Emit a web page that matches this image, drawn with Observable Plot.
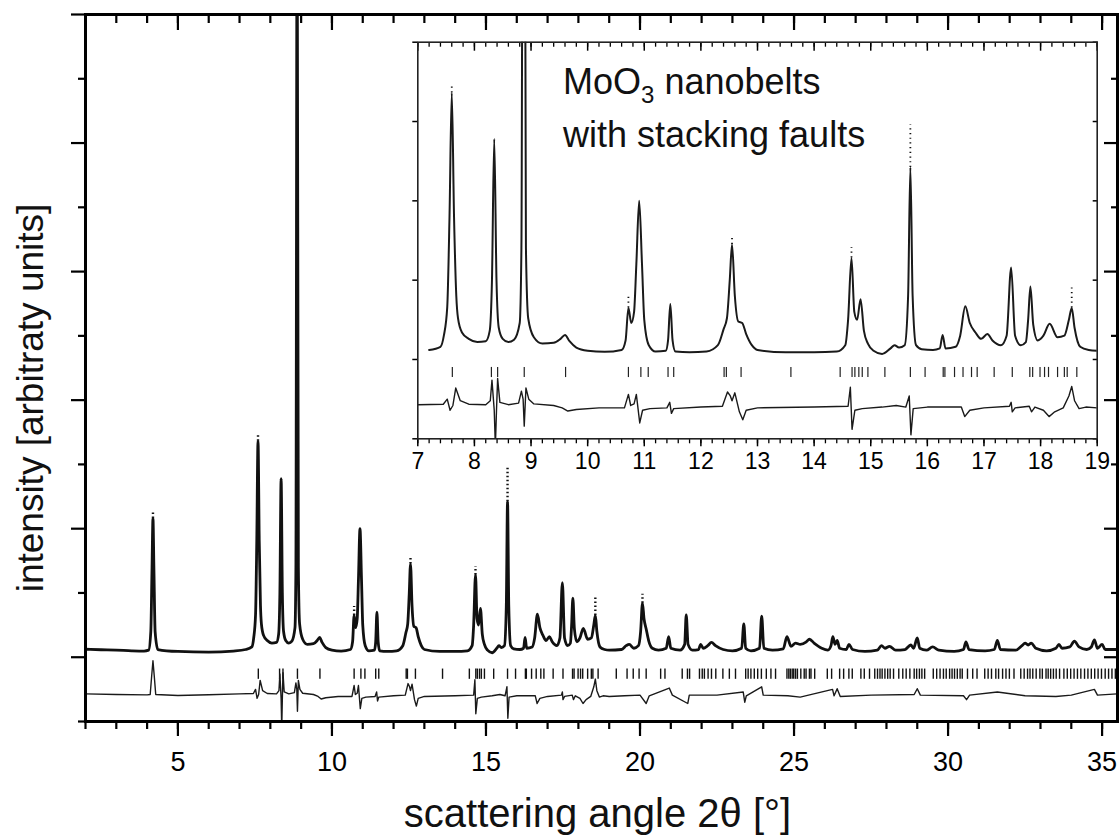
<!DOCTYPE html>
<html>
<head>
<meta charset="utf-8">
<script src="https://cdn.jsdelivr.net/npm/d3@7"></script>
<script src="https://cdn.jsdelivr.net/npm/@observablehq/plot@0.6"></script>
<style>
  body { margin: 0; background: #fff; }
  #fig { position: relative; width: 1120px; height: 835px; font-family: "Liberation Sans", Arial, sans-serif; color: #000; }
  #fig svg { position: absolute; }
  #note { position: absolute; left: 563px; top: 55px; font-size: 36px; line-height: 53px; color: #111; white-space: nowrap; }
  #note sub { font-size: 24px; vertical-align: -9px; line-height: 0; }
</style>
</head>
<body>
<div id="fig"></div>
<script>
// Observed powder pattern of the MoO3 nanobelts: [2θ (deg), intensity (counts)]
const pattern = [
  [2.0, 62], [2.5, 58], [3.0, 55], [3.5, 50], [3.9, 48], [4.05, 55], [4.12, 200], [4.16, 700], [4.19, 1080], [4.22, 700], [4.26, 200], [4.35, 60],
  [5.0, 45], [6.0, 40], [6.8, 48], [7.2, 60], [7.4, 80], [7.46, 150], [7.52, 330], [7.56, 900], [7.6, 1680], [7.64, 900], [7.68, 400], [7.71, 260],
  [7.78, 170], [7.9, 130], [8.05, 110], [8.2, 115], [8.27, 180], [8.31, 500], [8.35, 1390], [8.39, 500], [8.43, 200], [8.5, 130], [8.6, 110],
  [8.7, 125], [8.8, 230], [8.83, 700], [8.87, 6000], [8.91, 700], [8.95, 260], [9.05, 140], [9.2, 100], [9.4, 105], [9.52, 130], [9.6, 155],
  [9.68, 115], [9.8, 75], [10.0, 55], [10.3, 48], [10.6, 60], [10.67, 120], [10.72, 325], [10.77, 230], [10.82, 300], [10.86, 600], [10.91, 1000],
  [10.96, 600], [11.0, 250], [11.08, 90], [11.2, 50], [11.38, 55], [11.42, 120], [11.46, 350], [11.5, 120], [11.55, 50], [11.8, 45], [12.1, 50],
  [12.3, 90], [12.4, 190], [12.46, 260], [12.51, 500], [12.55, 725], [12.6, 400], [12.66, 240], [12.73, 230], [12.8, 160], [12.9, 90], [13.0, 60],
  [13.5, 45], [14.0, 45], [14.4, 50], [14.55, 90], [14.6, 250], [14.66, 640], [14.71, 300], [14.76, 250], [14.82, 380], [14.88, 180], [14.95, 100],
  [15.05, 55], [15.2, 35], [15.35, 70], [15.42, 90], [15.5, 75], [15.6, 90], [15.66, 400], [15.7, 1210], [15.74, 400], [15.8, 90], [15.9, 65],
  [16.1, 60], [16.22, 70], [16.27, 155], [16.32, 70], [16.5, 80], [16.58, 150], [16.67, 335], [16.75, 230], [16.85, 170], [16.95, 130], [17.06, 160],
  [17.15, 120], [17.3, 90], [17.4, 150], [17.48, 580], [17.55, 150], [17.65, 90], [17.74, 110], [17.78, 250], [17.82, 460], [17.87, 220], [17.95, 120],
  [18.05, 150], [18.16, 225], [18.3, 140], [18.42, 150], [18.5, 250], [18.55, 325], [18.6, 200], [18.7, 80], [18.85, 60], [19.0, 55],
  [19.4, 60], [19.55, 90], [19.65, 100], [19.8, 70], [19.95, 90], [20.02, 200], [20.08, 420], [20.13, 300], [20.2, 220], [20.28, 130], [20.4, 70],
  [20.6, 55], [20.85, 70], [20.93, 160], [21.0, 70], [21.3, 55], [21.45, 100], [21.5, 330], [21.56, 100], [21.7, 55], [21.9, 60], [21.97, 100],
  [22.05, 70], [22.2, 90], [22.32, 115], [22.45, 90], [22.7, 60], [23.0, 50], [23.3, 70], [23.37, 260], [23.43, 70], [23.6, 50], [23.88, 70],
  [23.95, 320], [24.02, 70], [24.3, 55], [24.65, 65], [24.77, 160], [24.9, 85], [25.05, 110], [25.2, 100], [25.4, 120], [25.5, 140], [25.65, 110],
  [25.9, 70], [26.1, 55], [26.2, 90], [26.26, 160], [26.33, 100], [26.4, 130], [26.48, 70], [26.7, 60], [26.78, 100], [26.9, 60], [27.3, 45],
  [27.7, 55], [27.84, 90], [27.95, 70], [28.1, 85], [28.3, 55], [28.6, 60], [28.79, 95], [28.88, 70], [29.0, 150], [29.08, 70], [29.3, 55],
  [29.5, 80], [29.7, 55], [30.2, 45], [30.5, 60], [30.58, 120], [30.68, 60], [31.2, 50], [31.5, 60], [31.6, 130], [31.7, 60], [32.2, 55],
  [32.4, 90], [32.5, 110], [32.6, 95], [32.7, 110], [32.85, 70], [33.2, 50], [33.5, 70], [33.6, 100], [33.7, 70], [33.95, 80], [34.1, 125],
  [34.25, 80], [34.5, 60], [34.65, 80], [34.75, 135], [34.85, 70], [35.0, 100], [35.1, 60], [35.5, 60]
];

// Scattered observed points above the fitted peak maxima: [2θ, fit top, highest point]
const peakTops = [
  [4.19, 1080, 1130], [7.6, 1680, 1725], [10.72, 325, 395], [12.55, 725, 775], [14.66, 640, 705],
  [15.7, 1210, 1480], [18.55, 325, 460], [20.08, 420, 490]
];

// Difference curve (observed − calculated): [2θ, counts]
const difference = [
  [2.0, 5], [3.0, 0], [4.0, -3], [4.1, 0], [4.15, 150], [4.19, 263], [4.23, 150], [4.28, 0], [5.0, -8], [6.0, -2], [7.0, 5],
  [7.45, 8], [7.52, 40], [7.57, -30], [7.62, 0], [7.67, 110], [7.75, 30], [7.9, 8], [8.2, 5], [8.28, 30], [8.31, 160], [8.35, -30],
  [8.37, -260], [8.39, -30], [8.41, 170], [8.45, 20], [8.6, 5], [8.78, 15], [8.83, 90], [8.86, 40], [8.88, -130], [8.91, 110], [8.96, 40],
  [9.05, 10], [9.4, 0], [9.55, -15], [9.65, -35], [9.8, -25], [10.2, -15], [10.65, -15], [10.72, 70], [10.76, 0], [10.82, 10], [10.86, 70],
  [10.92, -110], [10.97, -30], [11.1, -20], [11.4, -15], [11.45, 20], [11.48, -50], [11.52, -20], [12.0, -10], [12.38, -5], [12.47, 85],
  [12.52, 60], [12.55, 30], [12.6, 80], [12.68, -40], [12.74, -90], [12.8, -30], [13.0, -15], [14.0, -10], [14.6, -5], [14.64, 115],
  [14.67, -150], [14.72, -30], [14.85, -20], [15.2, -10], [15.45, 0], [15.62, -10], [15.68, 60], [15.71, -185], [15.75, -20], [16.0, -10],
  [16.6, -10], [16.66, -70], [16.75, -30], [17.0, -15], [17.45, -5], [17.48, 20], [17.5, -40], [17.55, -15], [17.8, -5], [17.84, -40],
  [17.9, -10], [18.05, -30], [18.15, -70], [18.25, -40], [18.4, -15], [18.5, 60], [18.55, 120], [18.6, 30], [18.68, -20], [18.8, -10],
  [19.0, -15], [19.5, -10], [20.0, -5], [20.2, -70], [20.3, -10], [20.95, 50], [21.05, -5], [21.55, -70], [21.6, -5], [22.5, -5],
  [23.35, 20], [23.4, -60], [23.45, -10], [23.95, 60], [24.0, -5], [24.8, -10], [25.2, -20], [26.25, 40], [26.3, -10], [26.4, 45],
  [26.5, -15], [27.5, -5], [28.9, 0], [29.0, 45], [29.1, -5], [30.5, -10], [30.6, -40], [30.7, -5], [31.6, 20], [32.5, -10],
  [33.5, -15], [34.0, -5], [34.75, 40], [34.85, -5], [35.5, 5]
];

// Bragg reflection positions of the MoO3 phase (2θ, deg)
const reflections = [
  7.61, 8.30, 8.41, 8.88, 9.61, 10.72, 10.94, 11.07, 11.42, 11.52, 12.41, 12.45, 12.71, 13.59, 14.46, 14.67, 14.72, 14.79, 14.85,
  14.95, 15.25, 15.70, 15.96, 16.28, 16.31, 16.48, 16.63, 16.78, 16.88, 17.18, 17.50, 17.81, 17.86, 17.99, 18.07, 18.14, 18.30,
  18.42, 18.47, 18.64, 19.23, 19.58, 19.78, 19.97, 20.20, 20.67, 20.81, 21.37, 21.54, 21.61, 21.93, 22.02, 22.09, 22.21, 22.32,
  22.46, 22.69, 22.90, 23.10, 23.43, 23.51, 23.60, 23.71, 23.82, 23.94, 24.10, 24.25, 24.40, 24.77, 24.83, 24.88, 24.94, 24.99,
  25.05, 25.11, 25.22, 25.33, 25.39, 25.50, 25.55, 25.67, 26.08, 26.22, 26.48, 26.61, 26.78, 26.89, 27.17, 27.28, 27.45, 27.62,
  27.71, 27.79, 27.86, 27.95, 28.04, 28.12, 28.23, 28.40, 28.53, 28.64, 28.76, 28.90, 28.98, 29.07, 29.15, 29.24, 29.52, 29.63,
  29.74, 29.85, 29.94, 30.05, 30.13, 30.21, 30.30, 30.39, 30.46, 30.63, 30.80, 30.94, 31.19, 31.30, 31.41, 31.55, 31.64, 31.77,
  31.88, 31.99, 32.14, 32.36, 32.47, 32.58, 32.66, 32.75, 32.86, 32.98, 33.06, 33.18, 33.25, 33.33, 33.42, 33.51, 33.62, 33.76,
  33.87, 33.98, 34.09, 34.20, 34.31, 34.43, 34.54, 34.65, 34.76, 34.87, 34.98, 35.10, 35.21, 35.32, 35.43
];

// Axis tick values
const mainXLabels = [5, 10, 15, 20, 25, 30, 35];
const mainXMinor = d3.range(2, 36, 1);
const mainYMajor = [0, 1000, 2000, 3000, 4000, 5000];
const mainYMinor = [-500, 500, 1500, 2500, 3500, 4500];
const insetXLabels = d3.range(7, 20, 1);
const insetXMinor = d3.range(35, 96, 1).map(d => d / 5);
const insetYTicks = [-500, 0, 500, 1000, 1500, 2000];

const xTitle = "scattering angle 2θ [°]";
const yTitle = "intensity [arbitraty units]";

const diffOffset = -290;   // vertical shift of the difference curve
const font = "'Liberation Sans', Arial, Helvetica, sans-serif";
const tx = d => d[0];

const main = Plot.plot({
  width: 1120,
  height: 835,
  marginLeft: 85,
  marginRight: 3,
  marginTop: 14,
  marginBottom: 114,
  x: {domain: [2, 35.5]},
  y: {domain: [-500, 5000]},
  style: {fontFamily: font, color: "#000", background: "white", overflow: "visible"},
  marks: [
    Plot.line(pattern, {x: tx, y: d => d[1], curve: "monotone-x", stroke: "#111", strokeWidth: 2.8, clip: true}),
    Plot.ruleX(peakTops, {x: tx, y1: d => d[1], y2: d => d[2], stroke: "#111", strokeWidth: 2.4, strokeDasharray: "1.5,2.5", clip: true}),
    Plot.ruleX(reflections, {y1: -92, y2: -172, stroke: "#111", strokeWidth: 1.4}),
    Plot.line(difference, {x: tx, y: d => d[1] + diffOffset, stroke: "#1a1a1a", strokeWidth: 1.4, clip: true}),
    // bottom axis: labelled major ticks and unit minor ticks, pointing outward
    Plot.axisX(mainXLabels, {anchor: "bottom", tickSize: 15, strokeWidth: 2.2, tickPadding: 15, fontSize: 27, label: null}),
    Plot.axisX(mainXMinor, {anchor: "bottom", tickSize: 8, strokeWidth: 2.2, fill: "none", label: null}),
    // top axis: ticks pointing inward
    Plot.axisX(mainXLabels, {anchor: "top", tickSize: 15, dy: 15, strokeWidth: 2.2, fill: "none", label: null}),
    Plot.axisX(mainXMinor, {anchor: "top", tickSize: 8, dy: 8, strokeWidth: 2.2, fill: "none", label: null}),
    // left axis: outward ticks, no labels
    Plot.axisY(mainYMajor, {anchor: "left", tickSize: 14, strokeWidth: 2.2, fill: "none", label: null}),
    Plot.axisY(mainYMinor, {anchor: "left", tickSize: 7, strokeWidth: 2.2, fill: "none", label: null}),
    // right axis: inward ticks
    Plot.axisY(mainYMajor, {anchor: "right", tickSize: 14, dx: -14, strokeWidth: 2.2, fill: "none", label: null}),
    Plot.axisY(mainYMinor, {anchor: "right", tickSize: 7, dx: -7, strokeWidth: 2.2, fill: "none", label: null}),
    Plot.frame({stroke: "#000", strokeWidth: 3}),
    Plot.text([xTitle], {frameAnchor: "bottom", dy: 105, dx: -4, textAnchor: "middle", fontSize: 40, fill: "#111"}),
    Plot.text([yTitle], {frameAnchor: "left", dx: -54, dy: 30, textAnchor: "middle", rotate: -90, fontSize: 37, fill: "#111"})
  ]
});

const inWindow = d => d[0] >= 6.9 && d[0] <= 19.1;

const inset = Plot.plot({
  width: 720,
  height: 470,
  marginLeft: 20.3,
  marginRight: 20.3,
  marginTop: 19.7,
  marginBottom: 53.7,
  x: {domain: [7, 19]},
  y: {domain: [-500, 2000]},
  style: {fontFamily: font, color: "#000", background: "transparent", overflow: "visible"},
  marks: [
    Plot.frame({fill: "white", stroke: null}),
    Plot.line(pattern.filter(inWindow), {x: tx, y: d => d[1], curve: "monotone-x", stroke: "#1a1a1a", strokeWidth: 2, clip: true}),
    Plot.ruleX(peakTops.filter(inWindow), {x: tx, y1: d => d[1], y2: d => d[2], stroke: "#111", strokeWidth: 1.8, strokeDasharray: "1.2,3.5", clip: true}),
    Plot.ruleX(reflections.filter(d => d >= 7 && d <= 19), {y1: -50, y2: -114, stroke: "#222", strokeWidth: 1.2}),
    Plot.line(difference.filter(inWindow), {x: tx, y: d => d[1] + diffOffset, stroke: "#1a1a1a", strokeWidth: 1.4, clip: true}),
    Plot.axisX(insetXLabels, {anchor: "bottom", tickSize: 8, strokeWidth: 1.5, tickPadding: 6, fontSize: 23, label: null}),
    Plot.axisX(insetXMinor, {anchor: "bottom", tickSize: 5, strokeWidth: 1.3, fill: "none", label: null}),
    Plot.axisX(insetXLabels, {anchor: "top", tickSize: 8, dy: 8, strokeWidth: 1.5, fill: "none", label: null}),
    Plot.axisX(insetXMinor, {anchor: "top", tickSize: 4, dy: 4, strokeWidth: 1.3, fill: "none", label: null}),
    Plot.axisY(insetYTicks, {anchor: "left", tickSize: 5, strokeWidth: 1.5, fill: "none", label: null}),
    Plot.axisY(insetYTicks, {anchor: "right", tickSize: 5, dx: -5, strokeWidth: 1.5, fill: "none", label: null}),
    Plot.frame({stroke: "#222", strokeWidth: 1.6})
  ]
});

const fig = document.getElementById("fig");
main.style.left = "0px";
main.style.top = "0px";
inset.style.left = "397px";
inset.style.top = "22px";
fig.append(main, inset);

const note = document.createElement("div");
note.id = "note";
note.innerHTML = "MoO<sub>3</sub> nanobelts<br>with stacking faults";
fig.append(note);
</script>
</body>
</html>
